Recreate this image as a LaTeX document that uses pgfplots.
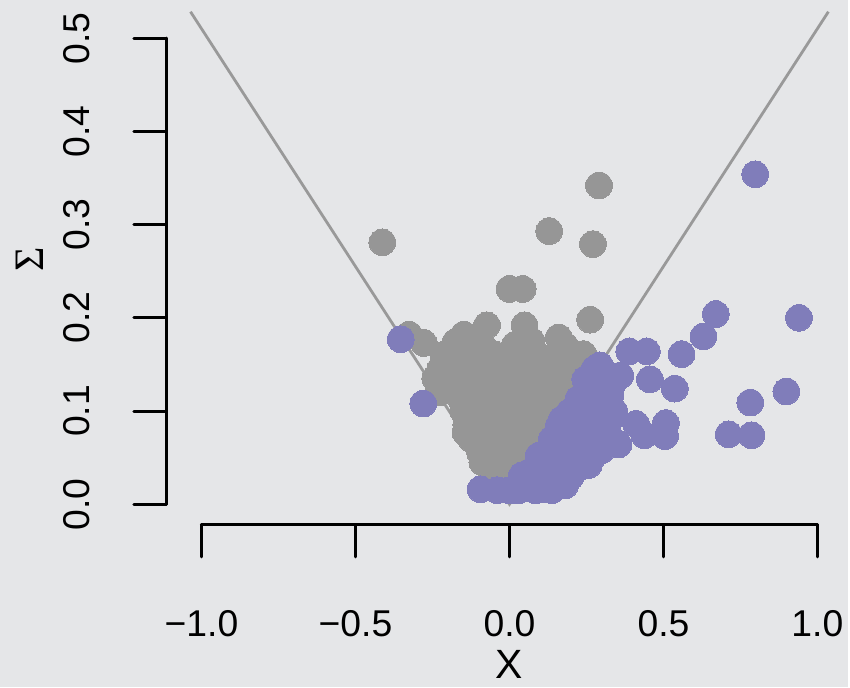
\documentclass[border=0pt]{standalone}
\usepackage{pgfplots}
\pgfplotsset{compat=1.18}
\usepackage{fontspec}
\setmainfont{Liberation Sans}
\newfontfamily\seriffont{Liberation Serif}

\definecolor{panelbg}{RGB}{229,230,232}
\definecolor{nsgrey}{HTML}{969696}
\definecolor{sigpurple}{HTML}{807DBA}
\definecolor{funnel}{HTML}{999999}

% studies inside the 1.96 funnel
\pgfplotstableread{
x y
-0.413 0.281
0.291 0.342
0.129 0.293
0.271 0.279
0.000 0.231
0.043 0.231
0.262 0.198
-0.073 0.192
0.049 0.192
-0.326 0.182
-0.278 0.173
-0.148 0.182
-0.175 0.174
0.160 0.179
0.181 0.170
-0.084 0.169
0.018 0.171
0.072 0.175
0.256 0.153
-0.214 0.160
-0.241 0.135
-0.200 0.160
-0.150 0.161
-0.100 0.158
-0.050 0.161
0.000 0.159
0.050 0.162
0.100 0.158
0.150 0.160
0.200 0.157
0.240 0.161
-0.225 0.145
-0.175 0.146
-0.125 0.143
-0.075 0.146
-0.025 0.144
0.025 0.147
0.075 0.143
0.125 0.145
0.175 0.146
0.225 0.143
0.270 0.145
-0.230 0.128
-0.185 0.131
-0.135 0.129
-0.085 0.132
-0.035 0.128
0.015 0.131
0.065 0.129
0.115 0.132
0.165 0.128
0.215 0.130
-0.229 0.120
-0.160 0.114
-0.110 0.116
-0.060 0.113
-0.010 0.117
0.040 0.114
0.090 0.116
0.140 0.113
0.190 0.115
-0.150 0.100
-0.090 0.101
-0.040 0.098
0.010 0.101
0.060 0.099
0.110 0.102
0.160 0.099
-0.140 0.085
-0.095 0.086
-0.045 0.084
0.005 0.087
0.055 0.084
0.105 0.086
-0.143 0.077
-0.125 0.070
-0.080 0.071
-0.030 0.069
0.020 0.072
0.070 0.070
-0.095 0.055
-0.050 0.056
0.000 0.054
0.050 0.057
-0.088 0.045
-0.060 0.040
-0.015 0.041
0.030 0.039
-0.035 0.034
-0.025 0.028
0.008 0.030
0.015 0.026
}\nonsig

% studies outside the funnel
\pgfplotstableread{
x y
-0.353 0.177
-0.280 0.108
0.798 0.354
0.670 0.204
0.940 0.200
0.630 0.180
0.559 0.161
0.389 0.164
0.446 0.164
0.456 0.134
0.537 0.124
0.899 0.121
0.782 0.109
0.411 0.086
0.508 0.087
0.438 0.074
0.505 0.073
0.712 0.075
0.786 0.074
0.354 0.064
0.294 0.149
0.276 0.145
0.311 0.141
0.360 0.138
0.246 0.134
0.331 0.127
0.257 0.129
0.290 0.124
0.327 0.116
0.260 0.115
0.224 0.113
0.321 0.110
0.300 0.110
0.311 0.102
0.340 0.100
0.280 0.100
0.213 0.102
0.195 0.099
0.250 0.095
0.300 0.095
0.160 0.084
0.181 0.084
0.267 0.084
0.321 0.088
0.213 0.081
0.170 0.091
0.289 0.081
0.320 0.075
0.138 0.070
0.203 0.070
0.240 0.070
0.289 0.070
0.343 0.067
0.250 0.065
0.270 0.060
0.300 0.058
0.220 0.060
0.149 0.059
0.246 0.052
0.095 0.052
0.130 0.050
0.192 0.049
0.267 0.049
0.160 0.045
0.116 0.042
0.230 0.040
0.257 0.042
0.062 0.034
0.170 0.034
0.200 0.030
0.041 0.031
0.100 0.025
0.180 0.020
-0.094 0.016
-0.040 0.015
0.000 0.015
0.030 0.015
0.084 0.015
0.111 0.016
0.138 0.015
}\sig

\begin{document}
\begin{tikzpicture}
\fill[panelbg] (-101pt,-91.75pt) rectangle (324pt,252.75pt);
\begin{axis}[
  at={(0pt,0pt)}, anchor=south west,
  scale only axis, width=308.75pt, height=233.6pt,
  xmin=-1, xmax=1, ymin=0, ymax=0.5,
  clip=false,
  axis x line=bottom, axis y line=left,
  axis x line shift=10.25pt, axis y line shift=17.65pt,
  axis line style={-, black, line width=1.5pt, line cap=round},
  tick align=outside, major tick length=16.2pt,
  tick style={black, line width=1.5pt, line cap=round},
  minor tick num=0,
  xtick={-1,-0.5,0,0.5,1},
  xticklabels={−1.0,−0.5,0.0,0.5,1.0},
  ytick={0,0.1,0.2,0.3,0.4,0.5},
  yticklabels={0.0,0.1,0.2,0.3,0.4,0.5},
  tick label style={font=\fontsize{18.7}{22}\selectfont},
  xticklabel style={anchor=center, yshift=-33.5pt},
  yticklabel style={anchor=center, xshift=-28.9pt, rotate=90},
  xlabel={X},
  ylabel={\seriffont Σ},
  every axis x label/.style={at={(axis description cs:0.5,-0.3440)}, anchor=center, font=\fontsize{20.5}{24}\selectfont},
  every axis y label/.style={at={(axis description cs:-0.27935,0.52654)}, anchor=center, rotate=90, font=\fontsize{21}{24}\selectfont},
]
  % 1.96 standard-error funnel
  \addplot[funnel, line width=1.4pt] coordinates {(-1.0356,0.5284) (0,0) (1.0356,0.5284)};
  \addplot[only marks, mark=*, mark size=6.7pt, color=nsgrey, mark options={draw=nsgrey, fill=nsgrey, line width=0pt}] table[x=x, y=y] {\nonsig};
  \addplot[only marks, mark=*, mark size=6.7pt, color=sigpurple, mark options={draw=sigpurple, fill=sigpurple, line width=0pt}] table[x=x, y=y] {\sig};
\end{axis}
\end{tikzpicture}
\end{document}
